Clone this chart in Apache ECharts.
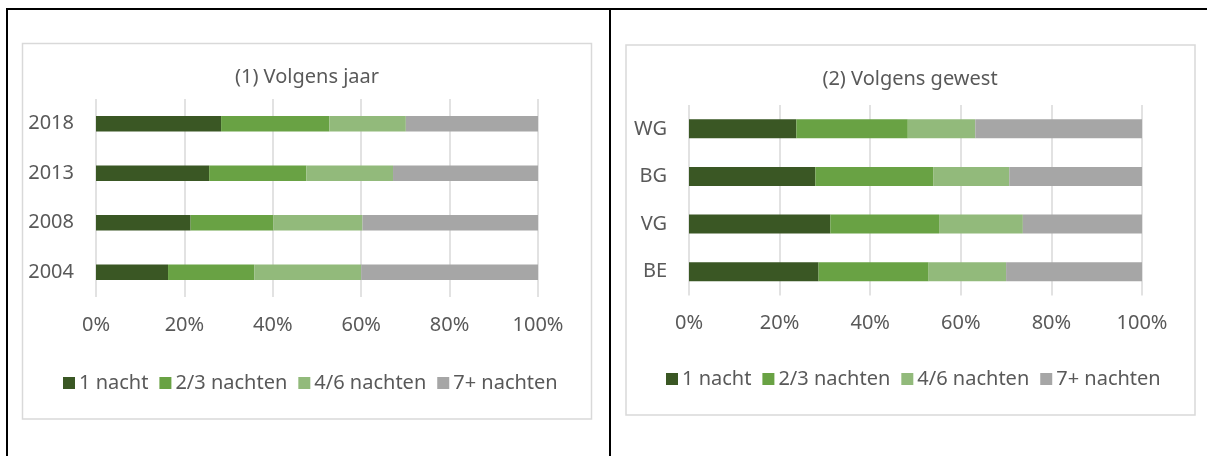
<!DOCTYPE html>
<html>
<head>
<meta charset="utf-8">
<title>Overnachtingen</title>
<script src="https://cdn.jsdelivr.net/npm/echarts@6/dist/echarts.min.js"></script>
<style>
	html, body { margin: 0; padding: 0; background: #fff; }
	#main { width: 1207px; height: 456px; }
</style>
</head>
<body>
<div id="main"></div>
<script>
// categorieen (van onder naar boven)
let jaren = ['2004', '2008', '2013', '2018'];
let gewesten = ['BE', 'VG', 'BG', 'WG'];
let reeksen = ['1 nacht', '2/3 nachten', '4/6 nachten', '7+ nachten'];
let xTicks = [0, 20, 40, 60, 80, 100];

// (1) volgens jaar, in %
let jaar1Nacht = [16.3, 21.4, 25.6, 28.3];
let jaar23Nachten = [19.5, 18.7, 22.0, 24.5];
let jaar46Nachten = [24.2, 20.2, 19.6, 17.3];
let jaar7Nachten = [40.0, 39.7, 32.8, 29.9];

// (2) volgens gewest, in %
let gewest1Nacht = [28.6, 31.2, 27.9, 23.7];
let gewest23Nachten = [24.3, 24.0, 26.0, 24.6];
let gewest46Nachten = [17.1, 18.5, 16.8, 14.9];
let gewest7Nachten = [30.0, 26.3, 29.3, 36.8];

let kleuren = ['#3a5724', '#69a244', '#92ba7b', '#a6a6a6'];
let tekst = '#595959';
let font = 'Noto Sans';
let fs = 20;

function xAxis(idx){
	return {
		type: 'value',
		gridIndex: idx,
		min: xTicks[0],
		max: xTicks[xTicks.length - 1],
		interval: xTicks[1] - xTicks[0],
		axisLine: { show: false },
		axisTick: { show: false },
		axisLabel: { color: tekst, fontFamily: font, fontSize: fs, margin: 18, formatter: '{value}%' },
		splitLine: { show: true, lineStyle: { color: '#d9d9d9', width: 1.5 } }
	};
}

function yAxis(idx, cats){
	return {
		type: 'category',
		gridIndex: idx,
		data: cats,
		axisLine: { show: false },
		axisTick: { show: false },
		axisLabel: { color: tekst, fontFamily: font, fontSize: fs, margin: 22 }
	};
}

function maakSeries(idx, rijen, breedte){
	return rijen.map(function(d, i){
		return {
			name: reeksen[i],
			type: 'bar',
			stack: 'st' + idx,
			xAxisIndex: idx,
			yAxisIndex: idx,
			barWidth: breedte,
			itemStyle: { color: kleuren[i] },
			data: d
		};
	});
}

function legende(x, top){
	return {
		data: reeksen,
		left: x,
		top: top,
		padding: 0,
		icon: 'rect',
		itemWidth: 12,
		itemHeight: 12,
		itemGap: 11,
		textStyle: { color: tekst, fontFamily: font, fontSize: fs, padding: [0, 0, 0, -1] }
	};
}

function init(){
	let myChart = echarts.init(document.getElementById('main'), null, { renderer: 'canvas' });
	let series = []
		.concat(maakSeries(0, [jaar1Nacht, jaar23Nachten, jaar46Nachten, jaar7Nachten], '31%'))
		.concat(maakSeries(1, [gewest1Nacht, gewest23Nachten, gewest46Nachten, gewest7Nachten], '40%'));

	let option = {
		animation: false,
		backgroundColor: '#fff',
		title: [{
			text: '(1) Volgens jaar',
			left: 307, top: 66, textAlign: 'center', padding: 0,
			textStyle: { color: tekst, fontFamily: font, fontSize: fs, fontWeight: 'normal', lineHeight: 22 }
		}, {
			text: '(2) Volgens gewest',
			left: 910, top: 68, textAlign: 'center', padding: 0,
			textStyle: { color: tekst, fontFamily: font, fontSize: fs, fontWeight: 'normal', lineHeight: 22 }
		}],
		legend: [legende(63, 373), legende(666, 369)],
		grid: [
			{ left: 96, width: 442, top: 99, height: 198 },
			{ left: 689, width: 453, top: 105, height: 190.5 }
		],
		xAxis: [xAxis(0), xAxis(1)],
		yAxis: [yAxis(0, jaren), yAxis(1, gewesten)],
		series: series,
		// kaders en tabelranden
		graphic: [
			{ type: 'rect', shape: { x: 22.5, y: 43.5, width: 569, height: 375.5 }, style: { fill: null, stroke: '#d9d9d9', lineWidth: 1.5 }, silent: true },
			{ type: 'rect', shape: { x: 626, y: 45, width: 569, height: 370 }, style: { fill: null, stroke: '#d9d9d9', lineWidth: 1.5 }, silent: true },
			{ type: 'line', shape: { x1: 6, y1: 9, x2: 1207, y2: 9 }, style: { stroke: '#000', lineWidth: 2 }, silent: true },
			{ type: 'line', shape: { x1: 7, y1: 8, x2: 7, y2: 456 }, style: { stroke: '#000', lineWidth: 2 }, silent: true },
			{ type: 'line', shape: { x1: 610, y1: 8, x2: 610, y2: 456 }, style: { stroke: '#000', lineWidth: 2 }, silent: true }
		]
	};
	myChart.setOption(option);
}
init();
</script>
</body>
</html>
